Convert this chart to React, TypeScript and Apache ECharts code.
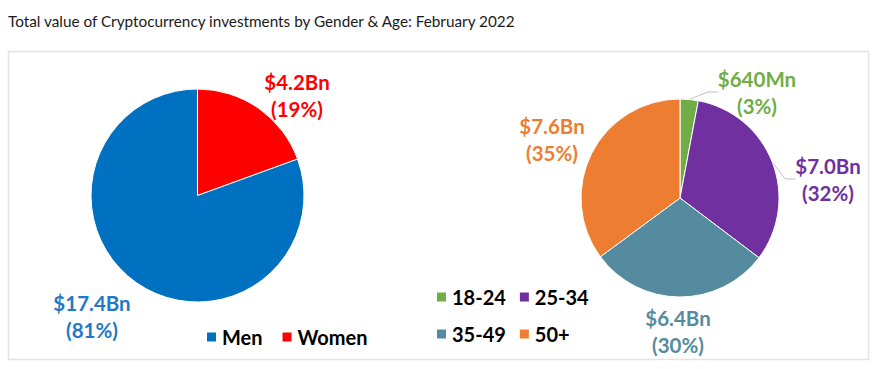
import React, { useEffect, useRef } from "react";
import * as echarts from "echarts";

const TITLE = "Total value of Cryptocurrency investments by Gender & Age: February 2022";

const genderNames = ["Women", "Men"];
const genderValues = [4.2, 17.4];
const genderColors = ["#FF0000", "#0070C0"];
const genderLabelColors = ["#FF0000", "#1F78C8"];
const genderLegend = ["Men", "Women"];

const ageNames = ["18-24", "25-34", "35-49", "50+"];
const ageValues = [0.64, 7.0, 6.4, 7.6];
const ageColors = ["#70AD47", "#7030A0", "#558B9F", "#ED7D31"];
const ageLabelColors = ["#70AD47", "#7030A0", "#558B9F", "#ED7D31"];
const ageLegendRow1 = ["18-24", "25-34"];
const ageLegendRow2 = ["35-49", "50+"];

// label anchor positions (px) for layout
const genderLabelPos = [
  [297, 95],
  [92, 316],
];
const ageLabelPos = [
  [757, 92],
  [828, 179],
  [678, 331],
  [552, 139],
];
const ageLabelLineShow = [true, true, false, false];

const FONT = "Lato";

function fmtValue(v: number): string {
  if (v < 1) return "$" + Math.round(v * 1000) + "Mn";
  return "$" + v.toFixed(1) + "Bn";
}

export default function App() {
  const ref = useRef<HTMLDivElement>(null);
  useEffect(() => {
    if (!ref.current) return;
    const chart = echarts.init(ref.current, null, { renderer: "svg" });
    const labelFormatter = (p: any) =>
      fmtValue(p.value) + "\n(" + Math.round(p.percent) + "%)";
    const legendBase = {
      orient: "horizontal",
      icon: "rect",
      itemWidth: 11,
      itemHeight: 11,
      textStyle: { fontFamily: FONT, fontWeight: "bold", fontSize: 20, color: "#000" },
      selectedMode: false,
    };
    const labelBase = {
      show: true,
      position: "outside",
      formatter: labelFormatter,
      fontFamily: FONT,
      fontWeight: "bold",
      fontSize: 20.5,
      lineHeight: 27,
      align: "center",
    };
    chart.setOption({
      animation: false,
      backgroundColor: "#fff",
      title: {
        text: TITLE,
        left: 3,
        top: 8,
        textStyle: { fontFamily: FONT, fontWeight: "normal", fontSize: 15.3, color: "#1A1A1A" },
      },
      graphic: [
        {
          type: "rect",
          shape: { x: 8.5, y: 51.5, width: 860, height: 308 },
          style: { fill: "none", stroke: "#E3E3E3", lineWidth: 1.5 },
          silent: true,
          z: -1,
        },
      ],
      legend: [
        { ...legendBase, data: genderLegend, left: 200, top: 322, itemGap: 18 },
        { ...legendBase, data: ageLegendRow1, left: 430, top: 282, itemGap: 12 },
        { ...legendBase, data: ageLegendRow2, left: 430, top: 319, itemGap: 12 },
      ],
      series: [
        {
          type: "pie",
          center: [197.5, 195.5],
          radius: 106.5,
          startAngle: 90,
          clockwise: true,
          itemStyle: { borderColor: "#fff", borderWidth: 1 },
          label: labelBase,
          labelLine: { show: false },
          labelLayout: (p: any) => ({
            x: genderLabelPos[p.dataIndex][0],
            y: genderLabelPos[p.dataIndex][1],
            align: "center",
            verticalAlign: "middle",
          }),
          data: genderNames.map((n, i) => ({
            name: n,
            value: genderValues[i],
            itemStyle: { color: genderColors[i] },
            label: { color: genderLabelColors[i] },
          })),
        },
        {
          type: "pie",
          center: [680, 198],
          radius: 99,
          startAngle: 90,
          clockwise: true,
          itemStyle: { borderColor: "#fff", borderWidth: 1 },
          label: labelBase,
          labelLine: { show: true, length: 10, length2: 10, lineStyle: { color: "#BFBFBF", width: 1 } },
          labelLayout: (p: any) => ({
            x: ageLabelPos[p.dataIndex][0],
            y: ageLabelPos[p.dataIndex][1],
            align: "center",
            verticalAlign: "middle",
          }),
          data: ageNames.map((n, i) => ({
            name: n,
            value: ageValues[i],
            itemStyle: { color: ageColors[i] },
            label: { color: ageLabelColors[i] },
            labelLine: { show: ageLabelLineShow[i] },
          })),
        },
      ],
    });
    return () => chart.dispose();
  }, []);
  return (
    <div
      ref={ref}
      style={{ position: "fixed", left: 0, top: 0, width: 879, height: 369 }}
    />
  );
}
